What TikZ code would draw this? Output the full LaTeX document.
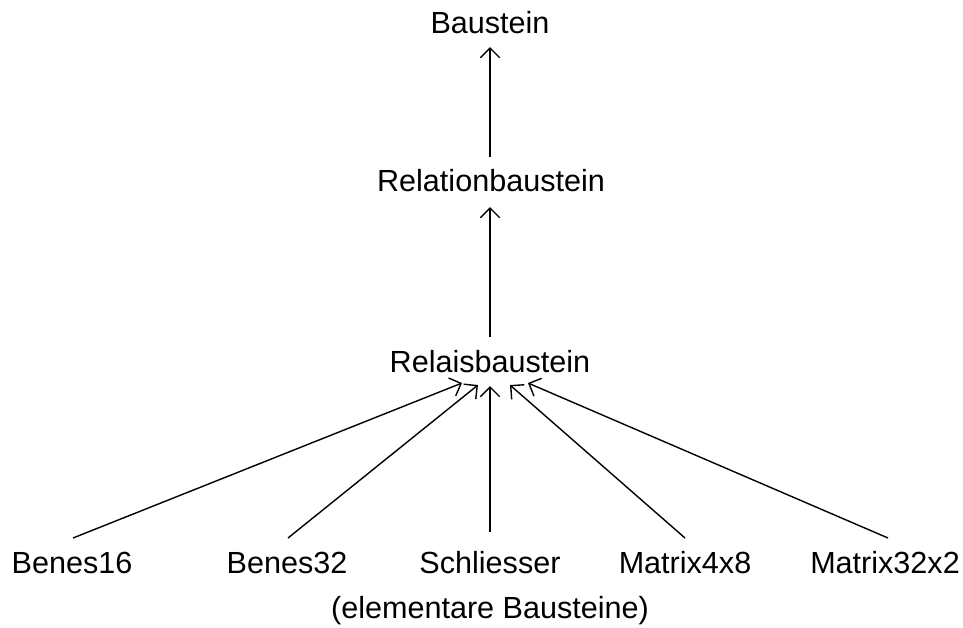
\documentclass[tikz,border=0pt]{standalone}
\usepackage{fontspec}
\setmainfont{Liberation Sans}
\usepackage{tikz}
\usetikzlibrary{arrows.meta, positioning, calc}
\definecolor{hierink}{HTML}{000000}

\tikzset{
  klasse/.style={font=\fontsize{17.4}{20}\selectfont, hierink, inner sep=0pt, anchor=base},
  erbt/.style={draw=hierink, line width=0.8pt, -{Straight Barb[length=5.5pt,width=11pt,line width=0.8pt]}}
}

\begin{document}
\begin{tikzpicture}[x=0.02cm, y=-0.02cm]
  \useasboundingbox (0,0) rectangle (963,627);
  % Hierarchie der Bausteine
  \node[klasse] (baustein) at (490,33) {Baustein};
  \node[klasse] (relation) at (491,191) {Relationbaustein};
  \node[klasse] (relais) at (490,372) {Relaisbaustein};
  \node[klasse] (benesA) at (72,573) {Benes16};
  \node[klasse] (benesB) at (287,573) {Benes32};
  \node[klasse] (schliesser) at (490,573) {Schliesser};
  \node[klasse] (matrixA) at (685,573) {Matrix4x8};
  \node[klasse] (matrixB) at (885,573) {Matrix32x2};
  \node[klasse] (elementar) at (490,618) {(elementare Bausteine)};

  \draw[erbt] ($(relation.base)+(-1,-34)$) -- ($(baustein.base)+(0,14)$);
  \draw[erbt] ($(relais.base)+(0,-35)$) -- ($(relation.base)+(-1,16)$);
  \draw[erbt] ($(benesA.base)+(1,-35)$) -- ($(relais.base)+(-28,11)$);
  \draw[erbt] ($(benesB.base)+(1,-35)$) -- ($(relais.base)+(-12,13)$);
  \draw[erbt] ($(schliesser.base)+(0,-41)$) -- ($(relais.base)+(0,14)$);
  \draw[erbt] ($(matrixA.base)+(0,-35)$) -- ($(relais.base)+(20,13)$);
  \draw[erbt] ($(matrixB.base)+(3,-35)$) -- ($(relais.base)+(38,11)$);
\end{tikzpicture}
\end{document}
